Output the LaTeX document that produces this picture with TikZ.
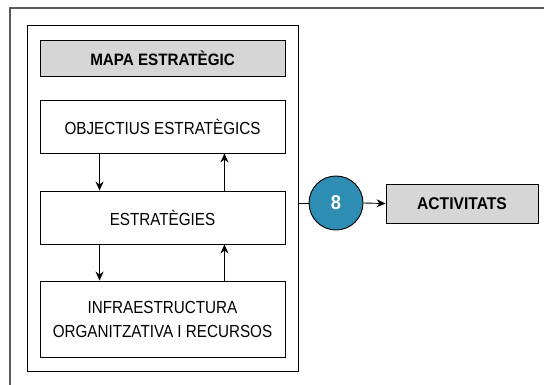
\documentclass[tikz,border=0pt]{standalone}
\usepackage{fontspec}
\setmainfont{Liberation Sans}[FakeStretch=0.87]
\newfontfamily\headfont{Liberation Sans}[FakeStretch=0.92]
\usetikzlibrary{positioning}
\usetikzlibrary{arrows.meta}
\definecolor{boxgray}{HTML}{D6D6D6}
\definecolor{numblue}{HTML}{2E8DB3}
\definecolor{framegray}{HTML}{5A5A5A}
\tikzstyle{blk}=[draw=black,line width=0.9pt,minimum width=245pt,align=center,font=\fontsize{17.5}{24}\selectfont]
\tikzstyle{head}=[blk,fill=boxgray,font=\headfont\fontsize{16.5}{20}\selectfont\bfseries]
\tikzstyle{num}=[circle,draw=black,line width=0.9pt,fill=numblue,text=white,minimum size=54pt,inner sep=0pt,font=\headfont\fontsize{20}{24}\selectfont\bfseries]
\tikzstyle{arr}=[line width=0.9pt,-{Stealth[length=9pt,width=8pt]}]

\begin{document}
\begin{tikzpicture}[x=1pt,y=-1pt]
			\useasboundingbox (0,0) rectangle (544,385);
			\fill[white] (0,0) rectangle (544,385);
			
			% outer frame, open at bottom and right
			\draw[framegray,line width=1.4pt] (10,385) -- (10,8) -- (544,8);
			
			\node [draw=black,line width=1pt,minimum width=271pt,minimum height=345pt] (mapa) at (162.5,198.5) {};
			
			\node [head, minimum height=36pt] (titol) at (162.5,58) {MAPA ESTRATÈGIC};
			\node [blk, minimum height=53pt] (obj) at (162.5,126.5) {OBJECTIUS ESTRATÈGICS};
			\node [blk, minimum height=53pt] (estr) at (162.5,217.5) {ESTRATÈGIES};
			\node [blk, minimum height=76pt] (infra) at (162.5,319) {INFRAESTRUCTURA\\ORGANITZATIVA I RECURSOS};
			
			\draw[arr] ([xshift=60pt]obj.south west) -- ([xshift=60pt]estr.north west);
			\draw[arr] ([xshift=-61pt]estr.north east) -- ([xshift=-61pt]obj.south east);
			\draw[arr] ([xshift=60pt]estr.south west) -- ([xshift=60pt]infra.north west);
			\draw[arr] ([xshift=-61pt]infra.north east) -- ([xshift=-61pt]estr.south east);
			
			\node [num] (n8) at (336,203) {8};
			\node [head, minimum width=152pt, minimum height=39pt, font=\headfont\fontsize{17}{20}\selectfont\bfseries] (activ) at (462,203.5) {ACTIVITATS};
			
			\draw[line width=0.9pt] (mapa.east |- n8.west) -- (n8.west);
			\draw[arr] (n8.east) -- (activ.west);
\end{tikzpicture}
\end{document}
